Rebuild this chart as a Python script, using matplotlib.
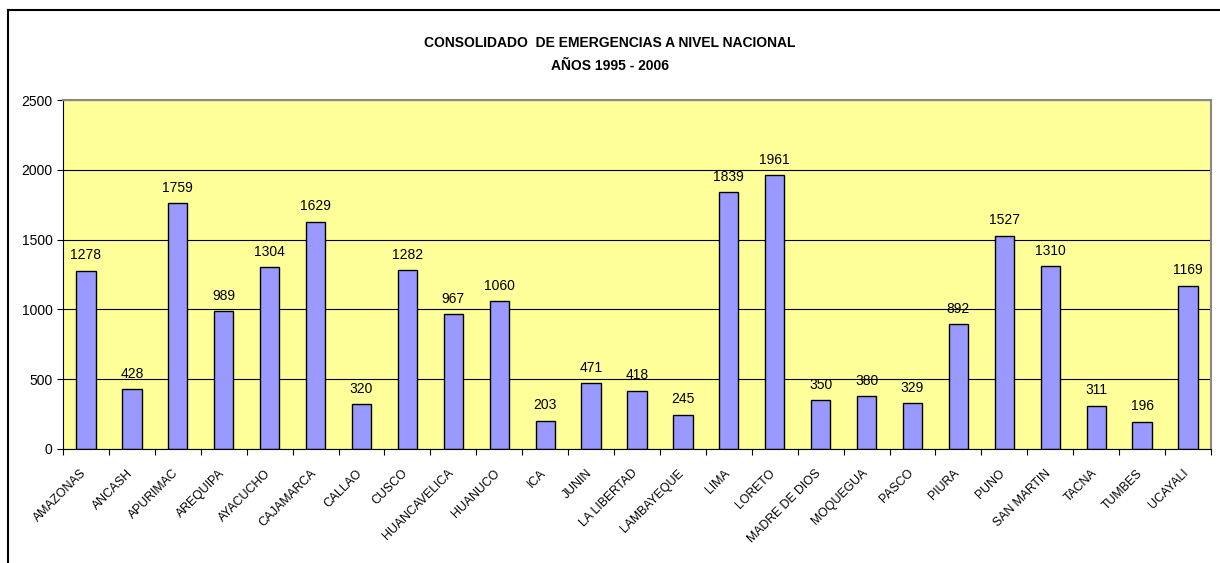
import matplotlib.pyplot as plt
import numpy as np
from matplotlib.lines import Line2D

departamentos = ["AMAZONAS", "ANCASH", "APURIMAC", "AREQUIPA", "AYACUCHO", "CAJAMARCA",
                 "CALLAO", "CUSCO", "HUANCAVELICA", "HUANUCO", "ICA", "JUNIN",
                 "LA LIBERTAD", "LAMBAYEQUE", "LIMA", "LORETO", "MADRE DE DIOS",
                 "MOQUEGUA", "PASCO", "PIURA", "PUNO", "SAN MARTIN", "TACNA",
                 "TUMBES", "UCAYALI"]
emergencias = [1278, 428, 1759, 989, 1304, 1629, 320, 1282, 967, 1060, 203, 471,
               418, 245, 1839, 1961, 350, 380, 329, 892, 1527, 1310, 311, 196, 1169]
y_ticks = [0, 500, 1000, 1500, 2000, 2500]

plt.rcParams['font.family'] = ['Liberation Sans', 'DejaVu Sans']

fig = plt.figure(figsize=(12.2, 5.63), dpi=100)
ax = fig.add_axes([63/1220, 1 - 449/563, (1211 - 63)/1220, (449 - 100)/563])

x = np.arange(len(departamentos))
ax.set_facecolor('#FFFF99')
ax.yaxis.grid(True, color='black', linewidth=0.8)
ax.set_axisbelow(True)
ax.bar(x, emergencias, width=0.42, color='#9999FF', edgecolor='black', linewidth=1)
for xi, v in zip(x, emergencias):
    ax.text(xi, v + 60, str(v), ha='center', va='bottom', fontsize=10)

ax.set_xlim(-0.5, len(departamentos) - 0.5)
ax.set_ylim(0, 2500)
ax.set_yticks(y_ticks)
ax.set_yticklabels([str(t) for t in y_ticks], fontsize=10)
ax.set_xticks(np.arange(len(departamentos) + 1) - 0.5)
ax.set_xticklabels([])
ax.tick_params(axis='x', length=4, direction='out')
ax.tick_params(axis='y', length=4, direction='out')
for xi, name in zip(x, departamentos):
    ax.text(xi - 0.12, -130, name, rotation=45, ha='right', va='top', fontsize=8.8,
            rotation_mode='anchor')

ax.spines['left'].set_color('black')
ax.spines['bottom'].set_color('black')
ax.spines['top'].set_color('#888888')
ax.spines['right'].set_color('#888888')
ax.spines['top'].set_linewidth(1.5)
ax.spines['right'].set_linewidth(1.5)

fig.text(0.5, 1 - 43/563, "CONSOLIDADO  DE EMERGENCIAS A NIVEL NACIONAL", ha='center', va='center',
         fontsize=10, fontweight='bold')
fig.text(0.5, 1 - 66/563, "AÑOS 1995 - 2006", ha='center', va='center',
         fontsize=10, fontweight='bold')

# marco exterior
fig.add_artist(Line2D([8/1220, 8/1220], [0, 1 - 10/563], transform=fig.transFigure, color='black', linewidth=1.5))
fig.add_artist(Line2D([8/1220, 1], [1 - 10/563, 1 - 10/563], transform=fig.transFigure, color='black', linewidth=1.5))

fig.savefig('out.png', dpi=100)
